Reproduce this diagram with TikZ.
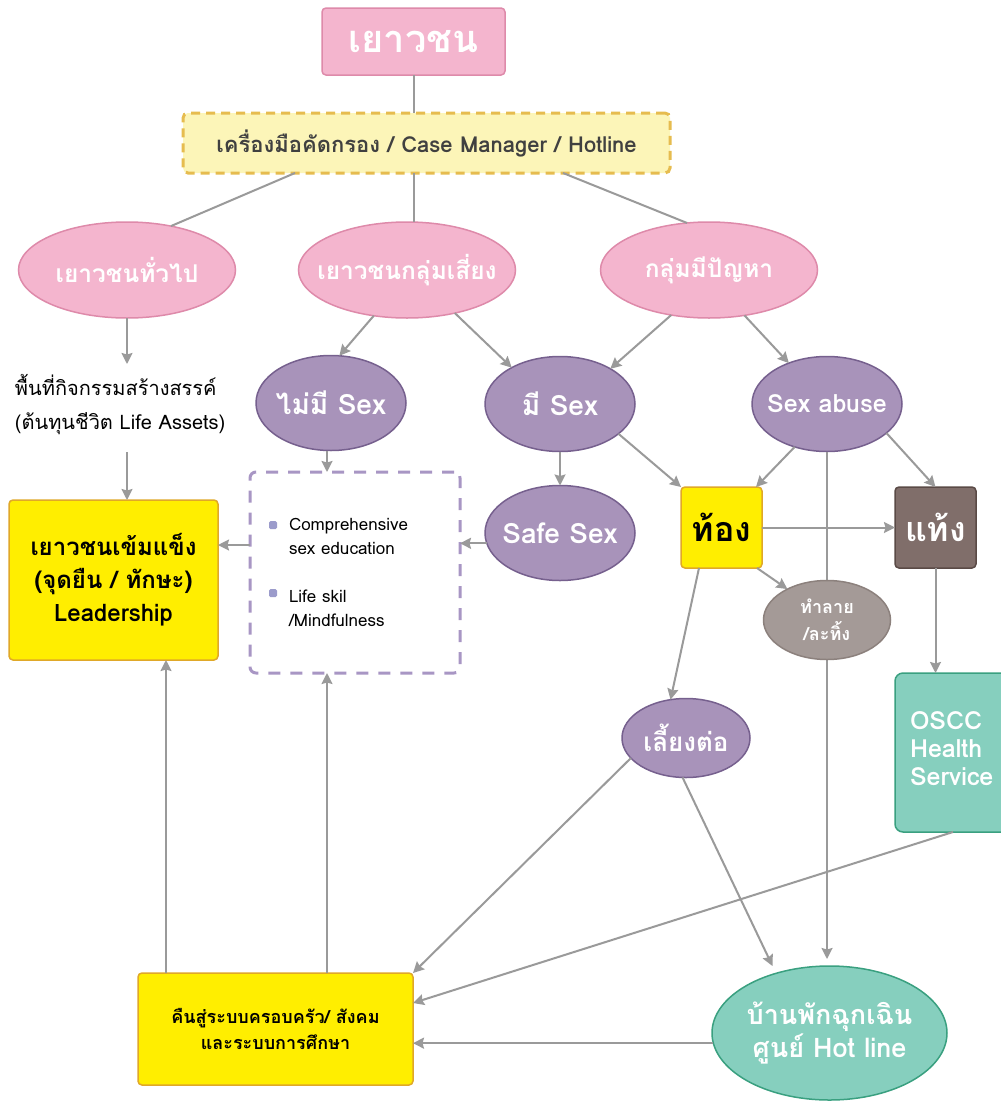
\documentclass[tikz,border=0pt]{standalone}
\usepackage{fontspec}
\setmainfont[Script=Thai]{Loma}
\usetikzlibrary{shapes.geometric,arrows.meta,calc}

\definecolor{pinkF}{HTML}{F4B5CE}
\definecolor{pinkD}{HTML}{DE8AAA}
\definecolor{screenF}{HTML}{FCF5B8}
\definecolor{screenD}{HTML}{E6BC4F}
\definecolor{screenT}{HTML}{404040}
\definecolor{purpF}{HTML}{A893BA}
\definecolor{purpD}{HTML}{76608E}
\definecolor{yelF}{HTML}{FFEE00}
\definecolor{yelD}{HTML}{E0A828}
\definecolor{brownF}{HTML}{806E6A}
\definecolor{brownD}{HTML}{5A4A46}
\definecolor{greyF}{HTML}{A49A97}
\definecolor{greyD}{HTML}{8C817D}
\definecolor{tealF}{HTML}{86CFBE}
\definecolor{tealD}{HTML}{3AA080}
\definecolor{connC}{HTML}{9A9A9A}
\definecolor{cedD}{HTML}{A896C4}
\definecolor{bulC}{HTML}{9B9BCB}

\newcommand\fsz[2]{\fontsize{#1}{#2}\selectfont}

\begin{document}
\begin{tikzpicture}[x=1pt,y=-1pt,
  every node/.style={inner sep=0pt, outer sep=0pt},
  conn/.style={draw=connC, line width=2pt},
  arr/.style={conn, -{Stealth[length=11pt,width=11pt,inset=1.5pt]}},
  pinkell/.style={ellipse, inner xsep=-30pt, fill=pinkF, draw=pinkD, line width=1.5pt,
    minimum width=217pt, minimum height=96pt, text=white, font=\bfseries\fsz{24.5}{28}},
  purpell/.style={ellipse, inner xsep=-25pt, fill=purpF, draw=purpD, line width=1.5pt,
    minimum width=150pt, minimum height=95pt, text=white, font=\bfseries\fsz{28}{32}},
  yelbox/.style={rectangle, rounded corners=4pt, fill=yelF, draw=yelD, line width=1.5pt,
    align=center, text=black},
  tealshape/.style={fill=tealF, draw=tealD, line width=1.5pt, text=white},
  bul/.style={rectangle, rounded corners=1.5pt, fill=bulC, minimum size=8pt},
  listtext/.style={anchor=west, align=left, font=\fsz{17}{24}, text=black}
]
\clip (0,0) rectangle (1001,1101);
\fill[white] (0,0) rectangle (1001,1101);

% top of the tree
\node[rectangle, rounded corners=4pt, fill=pinkF, draw=pinkD, line width=1.5pt,
  minimum width=183pt, minimum height=67pt, text=white, font=\bfseries\fsz{38}{40}]
  (top) at (413.5,41.5) {เยาวชน};
\node[rectangle, rounded corners=5pt, fill=screenF, draw=screenD, line width=3pt,
  dash pattern=on 9pt off 6pt, minimum width=487pt, minimum height=60pt,
  text=screenT, font=\bfseries\fsz{22}{26}]
  (dash) at (426.5,143) {เครื่องมือคัดกรอง / Case Manager / Hotline};

% three groups
\node[pinkell] (gen) at (127,270) {เยาวชนทั่วไป};
\node[pinkell] (risk) at (407,270) {เยาวชนกลุ่มเสี่ยง};
\node[pinkell] (prob) at (709,270) {กลุ่มมีปัญหา};

% second level
\node[purpell] (nosex) at (331,403) {ไม่มี Sex};
\node[purpell] (sex) at (560,404) {มี Sex};
\node[purpell, font=\bfseries\fsz{25}{28}] (abuse) at (827,404) {Sex abuse};
\node[purpell] (safe) at (560,533) {Safe Sex};

\node[anchor=west, align=left, font=\fsz{20}{34}, text=black] (life) at (15,405)
  {พื้นที่กิจกรรมสร้างสรรค์\\(ต้นทุนชีวิต Life Assets)};

\node[yelbox, minimum width=209pt, minimum height=160pt, font=\bfseries\fsz{24}{33}]
  (strong) at (113.5,580) {เยาวชนเข้มแข็ง\\(จุดยืน / ทักษะ)\\Leadership};

% education box with its two items
\node[rectangle, rounded corners=6pt, draw=cedD, line width=3pt,
  dash pattern=on 12pt off 10pt, fill=white,
  minimum width=210pt, minimum height=201pt] (cbox) at (355,572.5) {};
\node[bul] (b1) at (273,525) {};
\node[listtext] (t1) at (289,536) {Comprehensive\\sex education};
\node[bul] (b2) at (273,593) {};
\node[listtext] (t2) at (289,608) {Life skil\\/Mindfulness};

% pregnancy branch
\node[yelbox, minimum width=81pt, minimum height=81pt, font=\bfseries\fsz{34}{36}]
  (toung) at (721.5,527.5) {ท้อง};
\node[rectangle, rounded corners=4pt, fill=brownF, draw=brownD, line width=1.5pt,
  minimum width=81pt, minimum height=81pt, text=white, font=\bfseries\fsz{34}{36}]
  (taeng) at (935.5,527.5) {แท้ง};
\node[purpell, minimum width=128pt, minimum height=79pt, font=\bfseries\fsz{26}{28}]
  (liang) at (686,738) {เลี้ยงต่อ};

\node[rectangle, rounded corners=8pt, tealshape, minimum width=120pt, minimum height=159pt]
  (oscc) at (955,752.5) {};
\node[anchor=north west, align=left, text=white, font=\bfseries\fsz{25}{28}]
  (osccT) at (910,712) {OSCC\\Health\\Service};

\node[ellipse, tealshape, minimum width=235pt, minimum height=134pt, align=center,
  font=\bfseries\fsz{27}{33}] (hot) at (829.5,1033) {บ้านพักฉุกเฉิน\\ศูนย์ Hot line};

\node[yelbox, minimum width=275pt, minimum height=112pt, font=\bfseries\fsz{18}{26}]
  (khuen) at (275.5,1029) {คืนสู่ระบบครอบครัว/ สังคม\\และระบบการศึกษา};

% abuse line runs behind the abandonment ellipse
\draw[arr, shorten >=7pt] (abuse.south) -- (abuse.south |- hot.north);
\node[ellipse, fill=greyF, draw=greyD, line width=1.5pt, minimum width=127pt,
  minimum height=79pt, text=white, align=center, font=\bfseries\fsz{18}{27}]
  (tamlai) at (827,620) {ทำลาย\\/ละทิ้ง};

% plain links from the screening box
\draw[conn] (top.south) -- (top.south |- dash.north);
\draw[conn] ($(dash.south west)+(112,0)$) -- (gen.45);
\draw[conn] (top.south |- dash.south) -- (top.south |- risk.north);
\draw[conn] ($(dash.south east)+(-107,0)$) -- (prob.115);

% general youth
\coordinate (lifeTop) at (127,364);
\coordinate (lifeBot) at (127,452);
\draw[arr] (gen.south) -- (lifeTop);
\draw[arr] (lifeBot) -- (lifeBot |- strong.north);

% risk and problem groups
\draw[arr] (risk.-126) -- (nosex.80);
\draw[arr] (risk.-42) -- (sex.143);
\draw[arr] (prob.-130) -- (sex.35);
\draw[arr] (prob.-52) -- (abuse.133);

\coordinate (eduX) at (327,0);
\draw[arr] (eduX |- nosex.south) -- (eduX |- cbox.north);
\coordinate (eduY) at (0,545);
\draw[arr] (cbox.west |- eduY) -- (strong.east |- eduY);
\draw[arr] (sex.south) -- (safe.north);
\draw[arr] (safe.188) -- (cbox.east |- safe.188);

\draw[arr] (sex.-27) -- (toung.north west);
\draw[arr] (abuse.-127) -- ($(toung.north east)+(-6,0)$);
\draw[arr] (abuse.-26) -- (taeng.north);
\draw[arr] (toung.east) -- (taeng.west);
\draw[arr] ($(toung.south east)+(-5,0)$) -- (tamlai.142);
\draw[arr] (taeng.south) -- (taeng.south |- oscc.north);
\draw[arr] ($(toung.south west)+(18,0)$) -- (liang.112);

% return paths
\coordinate (backX) at (166,0);
\draw[arr] (liang.-160) -- (khuen.north east);
\draw[arr] (liang.-95) -- ($(hot.north)+(-57,0)$);
\draw[arr] ($(oscc.south west)+(58,0)$) -- ($(khuen.north east)+(0,30)$);
\draw[arr] (hot.185) -- (khuen.east |- hot.185);
\draw[arr] (backX |- khuen.north) -- (backX |- strong.south);
\draw[arr] (eduX |- khuen.north) -- (eduX |- cbox.south);
\end{tikzpicture}
\end{document}
